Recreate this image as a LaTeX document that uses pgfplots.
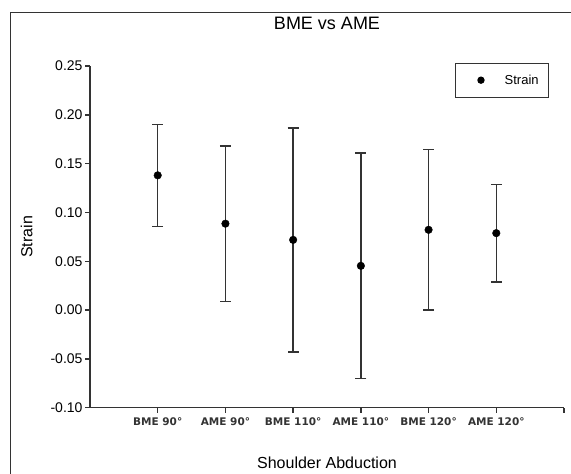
\documentclass[border=0pt]{standalone}
\usepackage{pgfplots}
\pgfplotsset{compat=1.18}
\usepackage{fontspec}
\setmainfont{Liberation Sans}
\newfontfamily\dejavu{DejaVu Sans}
\definecolor{axgray}{HTML}{333333}
\begin{document}
\begin{tikzpicture}[x=1bp,y=1bp]
\path[use as bounding box] (0,0) rectangle (571,474);
\draw[axgray, line width=1.2bp] (10.7,-20) rectangle (600,461.3);
\begin{axis}[
  at={(90bp,66.3bp)}, anchor=south west,
  scale only axis, width=474bp, height=341.7bp,
  xmin=0, xmax=7, ymin=-0.10, ymax=0.25,
  axis x line*=bottom, axis y line*=left,
  axis line style={-, axgray, line width=1.4bp},
  tick align=outside, major tick length=5bp,
  tick style={axgray, line width=1.4bp},
  xtick={1,2,3,4,5,6,7},
  xticklabels={BME 90°,AME 90°,BME 110°,AME 110°,BME 120°,AME 120°,{}},
  xticklabel style={font=\dejavu\bfseries\fontsize{10.5bp}{12bp}\selectfont, text=axgray, yshift=-1bp},
  ytick={-0.10,-0.05,0,0.05,0.10,0.15,0.20,0.25},
  yticklabel style={font=\fontsize{14bp}{16bp}\selectfont, xshift=1bp, /pgf/number format/.cd, fixed, fixed zerofill, precision=2, assume math mode=true},
  title={BME vs AME},
  title style={font=\fontsize{18bp}{21bp}\selectfont, at={(axis description cs:0.5,1)}, anchor=base, yshift=30.5bp},
  xlabel={Shoulder Abduction},
  xlabel style={font=\fontsize{16bp}{19bp}\selectfont, at={(axis description cs:0.5,0)}, anchor=base, yshift=-60.7bp},
  ylabel={Strain},
  ylabel style={font=\fontsize{16bp}{19bp}\selectfont, at={(axis description cs:-0.1217,0.5)}, anchor=base},
  legend style={at={(axis description cs:0.968,1.0097)}, anchor=north east, draw=axgray, line width=1bp, inner sep=0pt, font=\fontsize{13bp}{15bp}\selectfont, nodes={inner sep=0pt, anchor=west, draw=none}, /tikz/every even column/.append style={column sep=0pt}},
  legend image code/.code={\path[draw=none] (0bp,-17bp) rectangle (48.7bp,17bp); \fill[black, draw=none] (25bp,0) circle (3.7bp);},
  clip=false,
]
\addplot[only marks, mark=*, mark size=3.8bp, black,
  error bars/.cd, y dir=both, y explicit,
  error bar style={axgray, line width=1.4bp},
  error mark options={rotate=90, mark size=5.5bp, line width=1.4bp, axgray}]
  coordinates {
  (1,0.1380) +- (0,0.0521)
  (2,0.0885) +- (0,0.0797)
  (3,0.0719) +- (0,0.1147)
  (4,0.0453) +- (0,0.1156)
  (5,0.0822) +- (0,0.0822)
  (6,0.0788) +- (0,0.0500)
  };
\addlegendentry{Strain\hspace*{9.7bp}}
\end{axis}
\end{tikzpicture}
\end{document}
